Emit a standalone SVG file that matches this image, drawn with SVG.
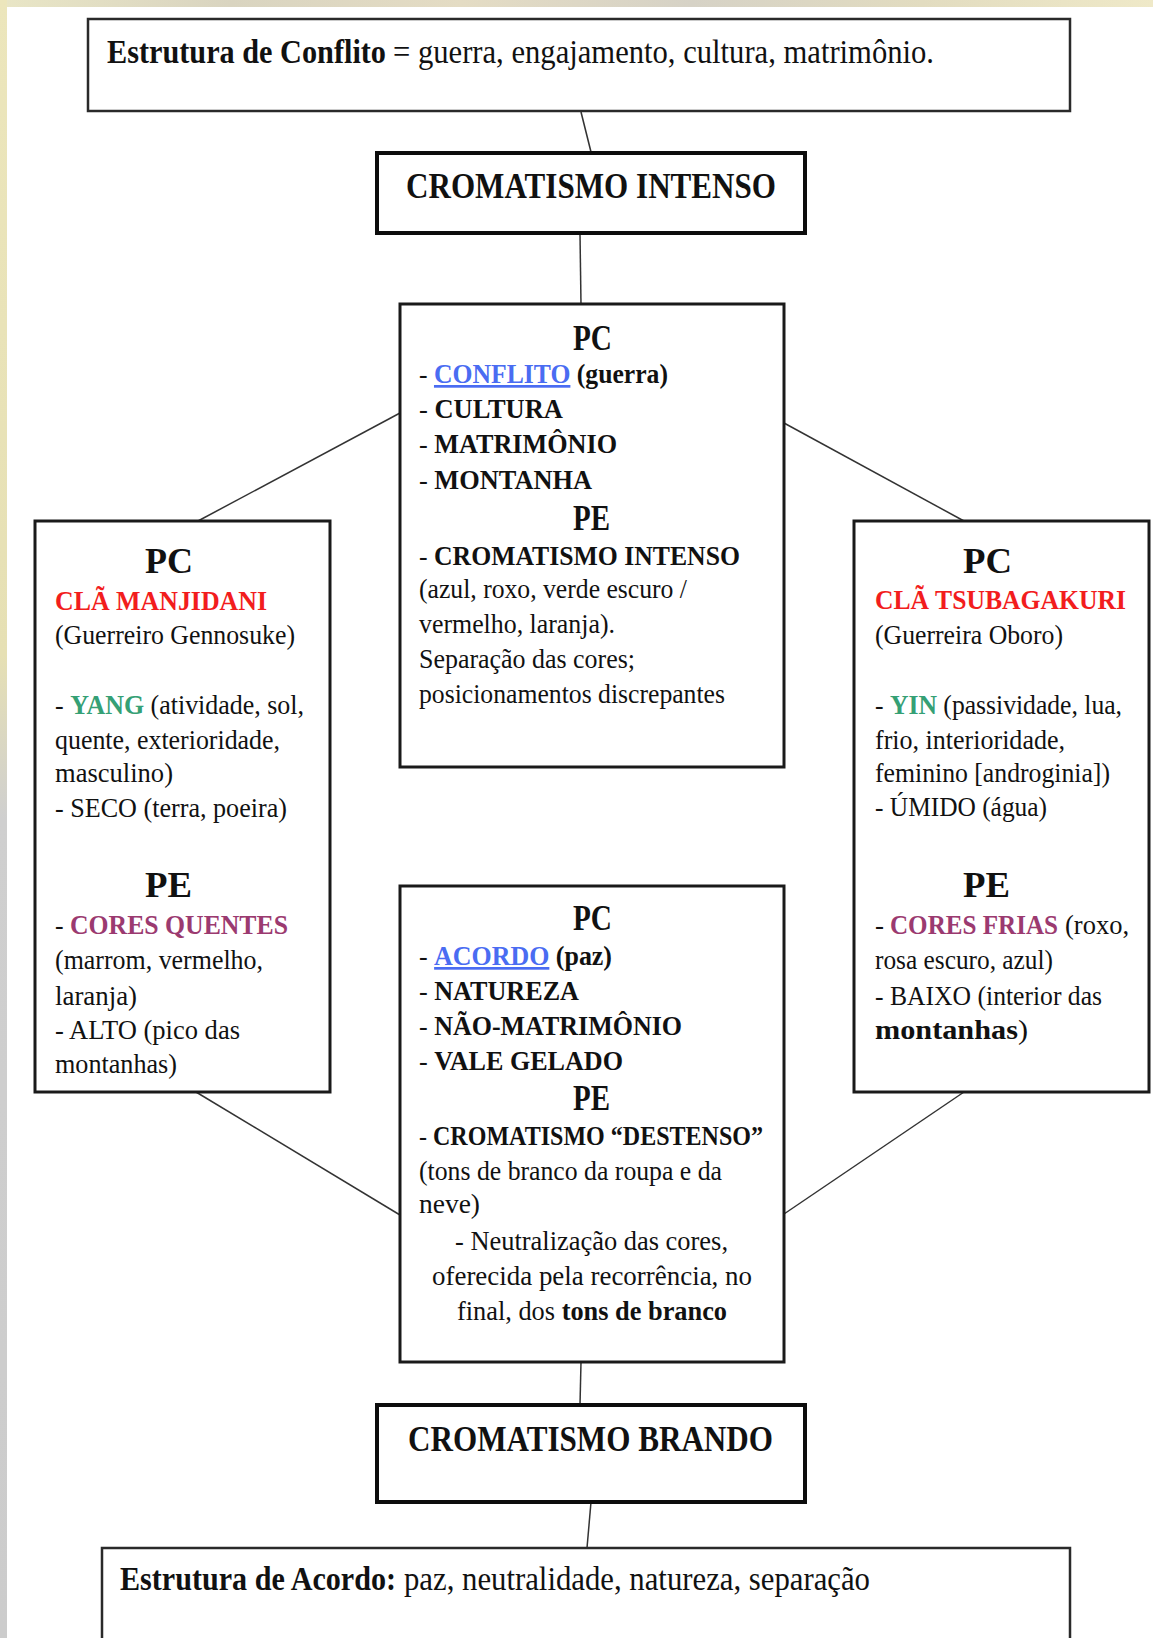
<svg xmlns="http://www.w3.org/2000/svg" width="1153" height="1638" viewBox="0 0 1153 1638">
<defs>
<linearGradient id="topbg" x1="0" y1="0" x2="1" y2="0">
<stop offset="0" stop-color="#e9e6c6"/>
<stop offset="0.2" stop-color="#d9d4c0"/>
<stop offset="0.4" stop-color="#e4dcc4"/>
<stop offset="0.6" stop-color="#d6d2c6"/>
<stop offset="0.8" stop-color="#e2dcc0"/>
<stop offset="1" stop-color="#efe9c8"/>
</linearGradient>
<linearGradient id="leftbg" x1="0" y1="0" x2="0" y2="1">
<stop offset="0" stop-color="#ece6bc"/>
<stop offset="0.4" stop-color="#e6e0b4"/>
<stop offset="0.5" stop-color="#cfcfcf"/>
<stop offset="1" stop-color="#cccccc"/>
</linearGradient>
<style>
.box{fill:#fff;stroke:#1a1a1a;stroke-width:3}
.sbox{fill:#fff;stroke:#2a2a2a;stroke-width:2.5}
.cbox{fill:#fff;stroke:#0d0d0d;stroke-width:4}
.con line{stroke:#333;stroke-width:1.5}
text{font-family:"Liberation Serif","Times New Roman",serif;fill:#111}
.t{font-size:27px}
.h{font-size:35px;font-weight:bold}
.big{font-size:36px;font-weight:bold}
.st{font-size:34px}
.b{font-weight:bold}
.red{fill:#f21d1d;font-weight:bold}
.grn{fill:#35a075;font-weight:bold}
.pur{fill:#9b3a70;font-weight:bold}
.lnk{fill:#4a6cf2;font-weight:bold;text-decoration:underline}
</style>
</defs>
<rect x="0" y="0" width="1153" height="1638" fill="#ffffff"/>
<rect x="0" y="0" width="1153" height="7" fill="url(#topbg)"/>
<rect x="0" y="0" width="7" height="1638" fill="url(#leftbg)"/>

<g class="con" id="connectors">
<line x1="581" y1="112" x2="591" y2="152"/>
<line x1="580" y1="234" x2="581" y2="304"/>
<line x1="198" y1="521" x2="400" y2="413"/>
<line x1="784" y1="423" x2="964" y2="521"/>
<line x1="196" y1="1092" x2="400" y2="1215"/>
<line x1="784" y1="1214" x2="964" y2="1092"/>
<line x1="581" y1="1362" x2="580" y2="1405"/>
<line x1="591" y1="1502" x2="587" y2="1548"/>
</g>

<g id="estrutura-conflito">
<rect class="sbox" x="88" y="19" width="982" height="92"/>
<text class="st b" x="107" y="63" textLength="279" lengthAdjust="spacingAndGlyphs">Estrutura de Conflito</text>
<text class="st" x="393" y="63" textLength="541" lengthAdjust="spacingAndGlyphs">= guerra, engajamento, cultura, matrimônio.</text>
</g>

<g id="cromatismo-intenso">
<rect class="cbox" x="377" y="153" width="428" height="80"/>
<text class="big" x="406" y="198" textLength="370" lengthAdjust="spacingAndGlyphs">CROMATISMO INTENSO</text>
</g>

<g id="centro-conflito">
<rect class="box" x="400" y="304" width="384" height="463"/>
<text class="h" x="573" y="350" textLength="39" lengthAdjust="spacingAndGlyphs">PC</text>
<text class="t" x="419" y="383" textLength="249" lengthAdjust="spacingAndGlyphs">- <tspan class="lnk">CONFLITO</tspan><tspan class="b"> (guerra)</tspan></text>
<text class="t" x="419" y="418" textLength="144" lengthAdjust="spacingAndGlyphs">- <tspan class="b">CULTURA</tspan></text>
<text class="t" x="419" y="453" textLength="198" lengthAdjust="spacingAndGlyphs">- <tspan class="b">MATRIMÔNIO</tspan></text>
<text class="t" x="419" y="489" textLength="173" lengthAdjust="spacingAndGlyphs">- <tspan class="b">MONTANHA</tspan></text>
<text class="h" x="573" y="530" textLength="37" lengthAdjust="spacingAndGlyphs">PE</text>
<text class="t" x="419" y="565" textLength="321" lengthAdjust="spacingAndGlyphs">- <tspan class="b">CROMATISMO INTENSO</tspan></text>
<text class="t" x="419" y="598" textLength="268" lengthAdjust="spacingAndGlyphs">(azul, roxo, verde escuro /</text>
<text class="t" x="419" y="633" textLength="196" lengthAdjust="spacingAndGlyphs">vermelho, laranja).</text>
<text class="t" x="419" y="668" textLength="216" lengthAdjust="spacingAndGlyphs">Separação das cores;</text>
<text class="t" x="419" y="703" textLength="306" lengthAdjust="spacingAndGlyphs">posicionamentos discrepantes</text>
</g>

<g id="cla-manjidani">
<rect class="box" x="35" y="521" width="295" height="571"/>
<text class="h" x="145" y="573" textLength="48" lengthAdjust="spacingAndGlyphs">PC</text>
<text class="t red" x="55" y="610" textLength="212" lengthAdjust="spacingAndGlyphs">CLÃ MANJIDANI</text>
<text class="t" x="55" y="644" textLength="240" lengthAdjust="spacingAndGlyphs">(Guerreiro Gennosuke)</text>
<text class="t" x="55" y="714" textLength="249" lengthAdjust="spacingAndGlyphs">- <tspan class="grn">YANG</tspan> (atividade, sol,</text>
<text class="t" x="55" y="749" textLength="225" lengthAdjust="spacingAndGlyphs">quente, exterioridade,</text>
<text class="t" x="55" y="782" textLength="118" lengthAdjust="spacingAndGlyphs">masculino)</text>
<text class="t" x="55" y="817" textLength="232" lengthAdjust="spacingAndGlyphs">- SECO (terra, poeira)</text>
<text class="h" x="145" y="897" textLength="47" lengthAdjust="spacingAndGlyphs">PE</text>
<text class="t" x="55" y="934" textLength="233" lengthAdjust="spacingAndGlyphs">- <tspan class="pur">CORES QUENTES</tspan></text>
<text class="t" x="55" y="969" textLength="208" lengthAdjust="spacingAndGlyphs">(marrom, vermelho,</text>
<text class="t" x="55" y="1005" textLength="82" lengthAdjust="spacingAndGlyphs">laranja)</text>
<text class="t" x="55" y="1039" textLength="185" lengthAdjust="spacingAndGlyphs">- ALTO (pico das</text>
<text class="t" x="55" y="1073" textLength="122" lengthAdjust="spacingAndGlyphs">montanhas)</text>
</g>

<g id="cla-tsubagakuri">
<rect class="box" x="854" y="521" width="295" height="571"/>
<text class="h" x="963" y="573" textLength="49" lengthAdjust="spacingAndGlyphs">PC</text>
<text class="t red" x="875" y="609" textLength="251" lengthAdjust="spacingAndGlyphs">CLÃ TSUBAGAKURI</text>
<text class="t" x="875" y="644" textLength="188" lengthAdjust="spacingAndGlyphs">(Guerreira Oboro)</text>
<text class="t" x="875" y="714" textLength="247" lengthAdjust="spacingAndGlyphs">- <tspan class="grn">YIN</tspan> (passividade, lua,</text>
<text class="t" x="875" y="749" textLength="190" lengthAdjust="spacingAndGlyphs">frio, interioridade,</text>
<text class="t" x="875" y="782" textLength="235" lengthAdjust="spacingAndGlyphs">feminino [androginia])</text>
<text class="t" x="875" y="816" textLength="172" lengthAdjust="spacingAndGlyphs">- ÚMIDO (água)</text>
<text class="h" x="963" y="897" textLength="47" lengthAdjust="spacingAndGlyphs">PE</text>
<text class="t" x="875" y="934">-</text>
<text class="t pur" x="890" y="934" textLength="168" lengthAdjust="spacingAndGlyphs">CORES FRIAS</text>
<text class="t" x="1065" y="934" textLength="64" lengthAdjust="spacingAndGlyphs">(roxo,</text>
<text class="t" x="875" y="969" textLength="178" lengthAdjust="spacingAndGlyphs">rosa escuro, azul)</text>
<text class="t" x="875" y="1005" textLength="227" lengthAdjust="spacingAndGlyphs">- BAIXO (interior das</text>
<text class="t" x="875" y="1039" textLength="153" lengthAdjust="spacingAndGlyphs"><tspan class="b">montanhas</tspan>)</text>
</g>

<g id="centro-acordo">
<rect class="box" x="400" y="886" width="384" height="476"/>
<text class="h" x="573" y="930" textLength="39" lengthAdjust="spacingAndGlyphs">PC</text>
<text class="t" x="419" y="965" textLength="193" lengthAdjust="spacingAndGlyphs">- <tspan class="lnk">ACORDO</tspan><tspan class="b"> (paz)</tspan></text>
<text class="t" x="419" y="1000" textLength="160" lengthAdjust="spacingAndGlyphs">- <tspan class="b">NATUREZA</tspan></text>
<text class="t" x="419" y="1035" textLength="263" lengthAdjust="spacingAndGlyphs">- <tspan class="b">NÃO-MATRIMÔNIO</tspan></text>
<text class="t" x="419" y="1070" textLength="204" lengthAdjust="spacingAndGlyphs">- <tspan class="b">VALE GELADO</tspan></text>
<text class="h" x="573" y="1110" textLength="37" lengthAdjust="spacingAndGlyphs">PE</text>
<text class="t" x="419" y="1145" textLength="344" lengthAdjust="spacingAndGlyphs">- <tspan class="b">CROMATISMO “DESTENSO”</tspan></text>
<text class="t" x="419" y="1180" textLength="303" lengthAdjust="spacingAndGlyphs">(tons de branco da roupa e da</text>
<text class="t" x="419" y="1213" textLength="61" lengthAdjust="spacingAndGlyphs">neve)</text>
<text class="t" x="455" y="1250" textLength="273" lengthAdjust="spacingAndGlyphs">- Neutralização das cores,</text>
<text class="t" x="432" y="1285" textLength="320" lengthAdjust="spacingAndGlyphs">oferecida pela recorrência, no</text>
<text class="t" x="457" y="1320" textLength="270" lengthAdjust="spacingAndGlyphs">final, dos <tspan class="b">tons de branco</tspan></text>
</g>

<g id="cromatismo-brando">
<rect class="cbox" x="377" y="1405" width="428" height="97"/>
<text class="big" x="408" y="1451" textLength="365" lengthAdjust="spacingAndGlyphs">CROMATISMO BRANDO</text>
</g>

<g id="estrutura-acordo">
<rect class="sbox" x="102" y="1548" width="968" height="120"/>
<text class="st b" x="120" y="1590" textLength="276" lengthAdjust="spacingAndGlyphs">Estrutura de Acordo:</text>
<text class="st" x="404" y="1590" textLength="466" lengthAdjust="spacingAndGlyphs">paz, neutralidade, natureza, separação</text>
</g>
</svg>
